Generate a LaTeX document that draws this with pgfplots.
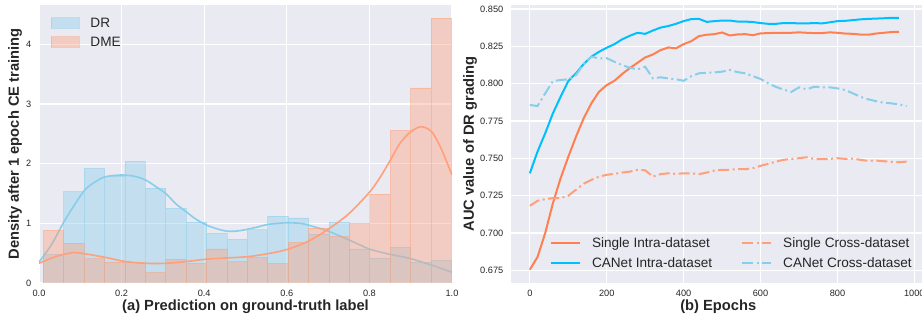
\documentclass[border=0pt]{standalone}
\usepackage{fontspec}
\setmainfont{Liberation Sans}
\usepackage{pgfplots}
\usepackage{pgfplotstable}
\pgfplotsset{compat=1.18}
\definecolor{bg}{HTML}{EAEAF2}
\definecolor{txt}{HTML}{262626}
\definecolor{skyb}{HTML}{87CEEB}
\definecolor{lsalmon}{HTML}{FFA07A}
\definecolor{coralc}{HTML}{FF7F50}
\definecolor{dsky}{HTML}{00BFFF}

\pgfplotstableread{
x dr dme
0.0105 0.48 0.88
0.0599 1.53 0.67
0.1093 1.92 0.41
0.1588 1.79 0.35
0.2082 2.04 0.35
0.2576 1.59 0.18
0.3070 1.25 0.40
0.3564 1.02 0.33
0.4059 0.83 0.57
0.4553 0.73 0.36
0.5047 0.89 0.43
0.5541 1.12 0.33
0.6035 1.09 0.68
0.6530 0.82 0.92
0.7024 1.02 0.78
0.7518 0.57 1.00
0.8012 0.42 1.49
0.8506 0.60 2.56
0.9001 0.35 3.27
0.9495 0.38 4.44
0.9989 0.38 4.44
}\histtab

\pgfplotstableread{
x y
0 0.35
0.03 0.64
0.06 1.02
0.085 1.30
0.111 1.56
0.135 1.69
0.16 1.78
0.198 1.81
0.23 1.79
0.257 1.73
0.28 1.63
0.307 1.50
0.331 1.33
0.357 1.19
0.38 1.07
0.406 0.97
0.43 0.91
0.454 0.87
0.478 0.87
0.504 0.90
0.53 0.94
0.553 0.98
0.58 1.00
0.601 1.01
0.632 1.00
0.652 0.97
0.70 0.87
0.751 0.72
0.80 0.57
0.85 0.48
0.899 0.41
0.95 0.30
1.0 0.18
}\drkde

\pgfplotstableread{
x y
0 0.33
0.035 0.43
0.06 0.48
0.085 0.51
0.111 0.49
0.16 0.43
0.209 0.36
0.257 0.33
0.307 0.33
0.357 0.36
0.406 0.40
0.454 0.42
0.504 0.44
0.553 0.49
0.60 0.56
0.652 0.70
0.70 0.90
0.75 1.16
0.80 1.52
0.825 1.76
0.85 2.05
0.874 2.34
0.899 2.53
0.925 2.62
0.95 2.54
0.972 2.28
1.0 1.81
}\dmekde

\pgfplotstableread{
e si ci
0 0.6755 0.740
20 0.684 0.7545
40 0.700 0.7668
60 0.720 0.7801
80 0.7367 0.7912
100 0.751 0.8017
120 0.7645 0.8069
140 0.7768 0.8131
160 0.7868 0.818
180 0.7946 0.8213
200 0.799 0.824
220 0.8019 0.8264
240 0.8064 0.8296
260 0.8104 0.832
280 0.8139 0.834
300 0.8175 0.8333
320 0.8195 0.8355
340 0.8224 0.8375
360 0.8242 0.8385
380 0.8236 0.840
400 0.8264 0.8418
420 0.8284 0.8432
440 0.8318 0.8433
460 0.8327 0.8413
480 0.8331 0.8418
500 0.8342 0.8422
520 0.8322 0.8422
540 0.8329 0.8415
560 0.8331 0.8415
580 0.8324 0.8412
600 0.8336 0.8405
620 0.8338 0.840
640 0.834 0.840
660 0.834 0.8405
680 0.834 0.8405
700 0.8343 0.8403
720 0.834 0.8403
740 0.8338 0.8405
760 0.8338 0.8403
780 0.8343 0.841
800 0.834 0.8418
820 0.8335 0.842
840 0.8333 0.8425
860 0.8328 0.843
880 0.8327 0.8433
900 0.8335 0.8435
920 0.834 0.8437
940 0.8345 0.844
960 0.8347 0.844
}\intratab

\pgfplotstableread{
e sc cc
0 0.7182 0.7857
20 0.7216 0.785
40 0.7227 0.7935
60 0.7234 0.8017
80 0.7234 0.8024
100 0.725 0.8029
120 0.729 0.8057
140 0.733 0.8131
160 0.7356 0.818
180 0.7378 0.8169
200 0.739 0.817
220 0.7396 0.8146
240 0.7405 0.8124
260 0.7411 0.8106
280 0.7423 0.8095
300 0.742 0.8113
320 0.7378 0.8035
340 0.7394 0.8042
360 0.7400 0.8035
380 0.7396 0.8029
400 0.740 0.8019
420 0.740 0.805
440 0.7394 0.8069
460 0.7405 0.8073
480 0.7418 0.8075
500 0.7423 0.808
520 0.7423 0.8091
540 0.7429 0.8077
560 0.7427 0.8069
580 0.7434 0.805
600 0.745 0.8031
620 0.7463 0.8002
640 0.7478 0.7978
660 0.7490 0.7960
680 0.7496 0.7944
700 0.7501 0.7975
720 0.7507 0.7962
740 0.7496 0.7979
760 0.7494 0.7975
780 0.7496 0.7975
800 0.7501 0.7968
820 0.7496 0.7957
840 0.7498 0.7935
860 0.749 0.7912
880 0.7483 0.7895
900 0.7485 0.7883
920 0.7481 0.7872
940 0.7476 0.7868
960 0.7474 0.7861
980 0.7478 0.785
}\crosstab

\pgfplotsset{
 sbstyle/.style={
  scale only axis,
  axis background/.style={fill=bg},
  axis line style={draw=none},
  major tick style={draw=none},
  minor tick style={draw=none},
  grid=major,
  major grid style={white, line width=1.3pt},
  tick label style={font=\fontsize{9.2}{11}\selectfont, text=txt},
  /pgf/number format/assume math mode=true,
  xticklabel style={yshift=-3.4pt},
  yticklabel style={xshift=-4.2pt},
  label style={font=\fontsize{14.7}{17}\selectfont\bfseries, text=txt},
  legend style={draw=none, fill=none, inner sep=0pt, outer sep=0pt,
    font=\fontsize{13.6}{16}\selectfont, text=txt,
    nodes={inner sep=0pt, text height=11.5pt, text depth=1.5pt}},
  legend cell align=left,
 },
 dashdot/.style={dash pattern=on 11pt off 3.5pt on 2pt off 3.5pt},
 lineleg/.style={legend image code/.code={\draw[##1] (0pt,0pt) -- (29pt,0pt);}},
}

\begin{document}
\begin{tikzpicture}
\begin{axis}[sbstyle,
  at={(39pt,37pt)}, anchor=south west,
  width=413pt, height=278pt,
  xmin=0, xmax=1, ymin=0, ymax=4.66,
  xtick={0,0.2,0.4,0.6,0.8,1},
  ytick={0,1,2,3,4},
  xticklabel style={/pgf/number format/.cd, fixed, fixed zerofill, precision=1},
  xlabel={(a) Prediction on ground-truth label},
  ylabel={Density after 1 epoch CE training},
  xlabel style={at={(axis description cs:0.5,-0.0853)}, anchor=center},
  ylabel style={at={(axis description cs:-0.0581,0.5)}, anchor=center},
  legend style={at={(axis description cs:0.0283,0.9586)}, anchor=north west,
    column sep=11pt, row sep=6pt},
]
\addplot[ybar interval, fill=skyb, fill opacity=0.4, draw=skyb, draw opacity=0.45, line width=0.8pt,
  legend image code/.code={\fill[skyb, fill opacity=0.4] (0pt,-5.35pt) rectangle (28pt,5.35pt);}]
  table[x=x, y=dr] {\histtab};
\addlegendentry{DR}
\addplot[skyb, line width=1.6pt, smooth, tension=0.5, forget plot] table[x=x, y=y] {\drkde};
\addplot[ybar interval, fill=lsalmon, fill opacity=0.4, draw=lsalmon, draw opacity=0.45, line width=0.8pt,
  legend image code/.code={\fill[lsalmon, fill opacity=0.4] (0pt,-5.35pt) rectangle (28pt,5.35pt);}]
  table[x=x, y=dme] {\histtab};
\addlegendentry{DME}
\addplot[lsalmon, line width=1.6pt, smooth, tension=0.5, forget plot] table[x=x, y=y] {\dmekde};
\end{axis}

\begin{axis}[sbstyle,
  at={(511pt,37pt)}, anchor=south west,
  width=414.5pt, height=278pt,
  xmin=-49, xmax=1029, ymin=0.6666, ymax=0.8526,
  xtick={0,200,400,600,800,1000},
  ytick={0.675,0.7,0.725,0.75,0.775,0.8,0.825,0.85},
  scaled y ticks=false,
  yticklabel style={/pgf/number format/.cd, fixed, fixed zerofill, precision=3},
  xticklabel style={/pgf/number format/1000 sep={}},
  xlabel={(b) Epochs},
  ylabel={AUC value of DR grading},
  xlabel style={at={(axis description cs:0.5,-0.0853)}, anchor=center},
  ylabel style={at={(axis description cs:-0.0989,0.5)}, anchor=center},
  legend columns=2,
  legend style={at={(axis description cs:0.0941,0.1683)}, anchor=north west,
    column sep=11pt, row sep=7pt,
    /tikz/every even column/.append style={column sep=29pt}},
]
\addplot[coralc, line width=2pt, lineleg] table[x=e, y=si] {\intratab};
\addlegendentry{Single Intra-dataset}
\addplot[lsalmon, line width=2pt, dashdot, lineleg] table[x=e, y=sc] {\crosstab};
\addlegendentry{Single Cross-dataset}
\addplot[dsky, line width=2pt, lineleg] table[x=e, y=ci] {\intratab};
\addlegendentry{CANet Intra-dataset}
\addplot[skyb, line width=2pt, dashdot, lineleg] table[x=e, y=cc] {\crosstab};
\addlegendentry{CANet Cross-dataset}
\end{axis}
\pgfresetboundingbox
\path[use as bounding box] (0pt,0pt) rectangle (922pt,320pt);
\end{tikzpicture}
\end{document}
